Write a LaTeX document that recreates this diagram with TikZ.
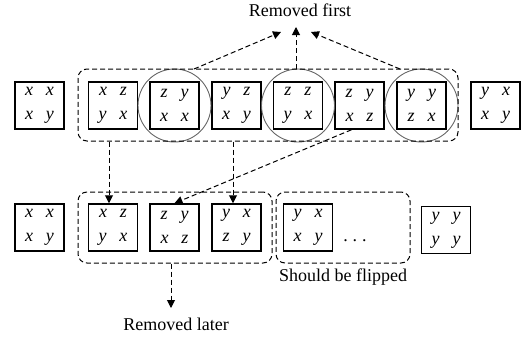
\documentclass[tikz,border=0pt]{standalone}
\usepackage{fontspec}
\setmainfont{Liberation Serif}
\usetikzlibrary{arrows.meta}
\begin{document}
\begin{tikzpicture}[x=1pt,y=-1pt,
  cell/.style={draw, line width=1.5pt, minimum width=49pt, minimum height=47pt, inner sep=0pt, align=center, font=\fontsize{18}{24}\selectfont\itshape},
  grp/.style={draw, dash pattern=on 5pt off 3pt, rounded corners=9pt, line width=1pt, inner sep=0pt},
  ring/.style={draw=black!60, line width=0.9pt, circle, minimum size=73pt, inner sep=0pt},
  arr/.style={dash pattern=on 5pt off 3pt, line width=1pt, -{Triangle[length=8pt,width=8pt]}},
  lbl/.style={font=\fontsize{18}{20}\selectfont, inner sep=0pt}]
\useasboundingbox (0,0) rectangle (523,341);
\newcommand{\gp}{\hspace{13pt}}
% top row
\node[cell] (T1) at (39.5,105.5) {x\gp x\\x\gp y};
\node[cell] (T2) at (113,105.5) {x\gp z\\y\gp x};
\node[cell] (T3) at (174.5,105.5) {z\gp y\\x\gp x};
\node[cell] (T4) at (236.5,105.5) {y\gp z\\x\gp y};
\node[cell] (T5) at (298,105.5) {z\gp z\\y\gp x};
\node[cell] (T6) at (359.5,105.5) {z\gp y\\x\gp z};
\node[cell] (T7) at (421.5,105.5) {y\gp y\\z\gp x};
\node[cell] (T8) at (495.5,105.5) {y\gp x\\x\gp y};
\node[ring] (R3) at (T3) {};
\node[ring] (R5) at (T5) {};
\node[ring] (R7) at (T7) {};
\node[grp, minimum width=380pt, minimum height=72pt] (G1) at (268,105) {};
% bottom row
\node[cell] (L1) at (39.5,227.5) {x\gp x\\x\gp y};
\node[cell] (L2) at (113,227.5) {x\gp z\\y\gp x};
\node[cell] (L3) at (174.5,227.5) {z\gp y\\x\gp z};
\node[cell] (L4) at (236.5,227.5) {y\gp x\\z\gp y};
\node[cell] (L5) at (308,227.5) {y\gp x\\x\gp y};
\node[cell] (L6) at (446,230) {y\gp y\\y\gp y};
\node[font=\fontsize{18}{20}\selectfont, inner sep=0pt, anchor=base] (D) at (355,241) {.\hspace{5pt}.\hspace{5pt}.};
\node[grp, minimum width=194pt, minimum height=71pt] (G2) at (175,227.5) {};
\node[grp, minimum width=134pt, minimum height=71pt] (G3) at (343,227.5) {};
% labels
\node[lbl] (RF) at (300,10) {Removed first};
\node[lbl] (SF) at (343,277) {Should be flipped};
\node[lbl] (RL) at (176,324) {Removed later};
% connectors
\coordinate (s1) at (194,69);
\coordinate (t1) at (281,32);
\coordinate (s2) at (296,69);
\coordinate (t2) at (296,27);
\coordinate (s3) at (400,69);
\coordinate (t3) at (311,32);
\draw[arr] (s1) -- (t1);
\draw[arr] (s2) -- (t2);
\draw[arr] (s3) -- (t3);
\draw[arr] ([xshift=-4pt]L2.north |- G1.south) -- ([xshift=-4pt]L2.north);
\draw[arr] ([xshift=-3.5pt]L4.north |- G1.south) -- ([xshift=-3.5pt]L4.north);
\draw[arr] ([xshift=-8pt]T6.south) -- (L3.north);
\coordinate (b1) at (171,308);
\draw[arr] ([xshift=-4pt]G2.south) -- (b1);
\end{tikzpicture}
\end{document}
